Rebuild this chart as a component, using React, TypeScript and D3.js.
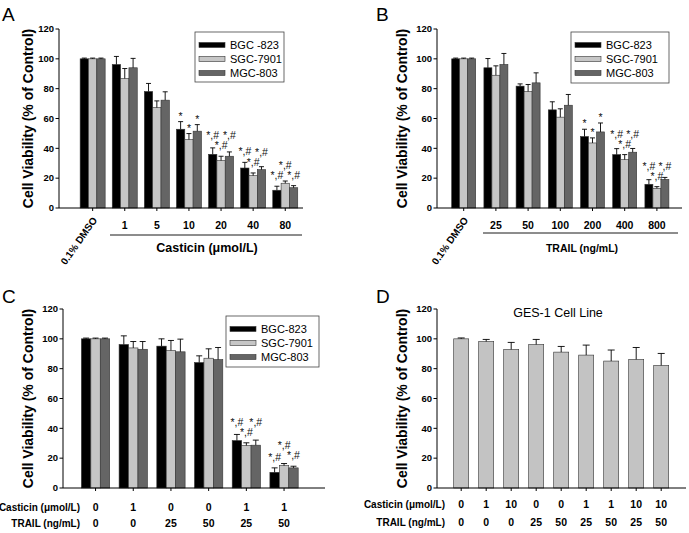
import React from "react";
import * as d3 from "d3";

const FONT = "'Liberation Sans', Arial, Helvetica, sans-serif";
const yTicks = [0, 20, 40, 60, 80, 100, 120];

const seriesNames = ["BGC-823", "SGC-7901", "MGC-803"];
const seriesNamesA = ["BGC -823", "SGC-7901", "MGC-803"];
const seriesColors = ["#000000", "#c6c6c6", "#656565"];

// Panel A: Casticin
const aCategories = ["0.1% DMSO", "1", "5", "10", "20", "40", "80"];
const aBGC = [100, 96.2, 78.1, 52.8, 36.0, 26.8, 11.9];
const aBGCErr = [0.5, 5.4, 5.4, 5.1, 4.3, 3.8, 2.7];
const aSGC = [100, 86.8, 67.3, 45.9, 31.8, 21.7, 16.6];
const aSGCErr = [0.5, 6.7, 4.5, 4.0, 2.9, 1.8, 1.5];
const aMGC = [100, 94.0, 72.3, 51.5, 34.7, 25.7, 13.6];
const aMGCErr = [0.5, 6.3, 5.6, 4.4, 2.9, 2.0, 1.4];
const aSig = ["", "", "", "*", "*,#", "*,#", "*,#"];

// Panel B: TRAIL
const bCategories = ["0.1% DMSO", "25", "50", "100", "200", "400", "800"];
const bBGC = [100, 94.0, 81.7, 65.8, 47.9, 35.8, 15.9];
const bBGCErr = [0.5, 6.2, 1.5, 5.4, 4.9, 4.0, 3.1];
const bSGC = [100, 89.0, 78.1, 60.9, 43.6, 32.4, 13.2];
const bSGCErr = [0.5, 6.3, 4.7, 5.6, 3.4, 3.4, 1.1];
const bMGC = [100, 96.2, 83.9, 68.9, 51.0, 37.4, 19.2];
const bMGCErr = [0.5, 7.4, 6.7, 7.2, 6.0, 2.5, 1.3];
const bSig = ["", "", "", "", "*", "*,#", "*,#"];

// Panel C: combination
const cCasticin = ["0", "1", "0", "0", "1", "1"];
const cTrail = ["0", "0", "25", "50", "25", "50"];
const cBGC = [100, 96.2, 95.1, 84.1, 31.8, 10.5];
const cBGCErr = [0.5, 5.8, 4.9, 4.5, 4.1, 3.0];
const cSGC = [100, 93.9, 92.2, 87.0, 28.5, 15.0];
const cSGCErr = [0.5, 4.3, 6.7, 6.3, 1.8, 1.4];
const cMGC = [100, 93.0, 91.3, 86.1, 28.7, 13.5];
const cMGCErr = [0.5, 5.2, 8.5, 8.1, 3.4, 1.1];
const cSig = ["", "", "", "", "*,#", "*,#"];

// Panel D: GES-1
const dCasticin = ["0", "1", "10", "0", "0", "1", "1", "10", "10"];
const dTrail = ["0", "0", "0", "25", "50", "25", "50", "25", "50"];
const dGES = [100, 98.2, 92.9, 96.2, 91.1, 89.1, 85.1, 86.2, 82.2];
const dGESErr = [0.6, 1.4, 4.7, 3.4, 3.8, 6.7, 7.4, 8.0, 8.0];

type Series = { name: string; color: string; values: number[]; errs: number[]; sigs?: string[] };

type PanelProps = {
  letter: string;
  letterX: number;
  letterY: number;
  axisX0: number;
  axisX1: number;
  yBottom: number;
  yTop: number;
  bandRange: [number, number];
  groupW: number;
  nCats: number;
  series: Series[];
  titleX: number;
  capW: number;
  legend?: { x: number; y: number; w: number; h: number; names: string[] };
};

function Panel(p: PanelProps) {
  const y = d3.scaleLinear().domain([0, 120]).range([p.yBottom, p.yTop]);
  const x = d3.scaleBand<number>().domain(d3.range(p.nCats)).range(p.bandRange).paddingInner(0).paddingOuter(0);
  const inner = d3
    .scaleBand<number>()
    .domain(d3.range(p.series.length))
    .range([-p.groupW / 2, p.groupW / 2]);
  const center = (i: number) => (x(i) as number) + x.bandwidth() / 2;
  const titleY = (p.yBottom + p.yTop) / 2;

  // significance label placement (stack middle vs outer labels)
  const sigLabels: { x: number; y: number; t: string; k: string }[] = [];
  if (p.series.length === 3 && p.series[0].sigs) {
    for (let i = 0; i < p.nCats; i++) {
      const t = p.series[0].sigs![i];
      if (!t) continue;
      const off = t === "*" ? 2 : 7;
      const nat = p.series.map((s) => y(s.values[i] + s.errs[i]) - off);
      const pos = nat.slice();
      if (t.length > 1) {
        const outerMin = Math.min(nat[0], nat[2]);
        if (nat[1] >= outerMin - 10) {
          if (nat[1] > outerMin) {
            pos[0] = Math.min(nat[0], nat[1] - 10);
            pos[2] = Math.min(nat[2], nat[1] - 10);
          } else {
            pos[1] = outerMin - 10;
          }
        }
      }
      p.series.forEach((s, si) => {
        const cx = center(i) + (inner(si) as number) + inner.bandwidth() / 2;
        sigLabels.push({ x: cx, y: pos[si], t: s.sigs![i], k: `s${si}-${i}` });
      });
    }
  }

  return (
    <g>
      <text x={p.letterX} y={p.letterY} fontSize={19} fontFamily={FONT}>
        {p.letter}
      </text>
      {p.series.map((s, si) =>
        s.values.map((v, i) => {
          const bx = center(i) + (inner(si) as number);
          return (
            <rect
              key={`b${si}-${i}`}
              x={bx}
              y={y(v)}
              width={inner.bandwidth()}
              height={y(0) - y(v)}
              fill={s.color}
              stroke="#333"
              strokeWidth={0.6}
            />
          );
        })
      )}
      {p.series.map((s, si) =>
        s.values.map((v, i) => {
          const cx = center(i) + (inner(si) as number) + inner.bandwidth() / 2;
          const top = y(v + s.errs[i]);
          return (
            <g key={`e${si}-${i}`} stroke="#000" strokeWidth={0.9}>
              <line x1={cx} x2={cx} y1={y(v)} y2={top} />
              <line x1={cx - p.capW / 2} x2={cx + p.capW / 2} y1={top} y2={top} />
            </g>
          );
        })
      )}
      {sigLabels.map((l) => (
        <text key={l.k} x={l.x} y={l.y} textAnchor="middle" fontSize={10.5} fontFamily={FONT} fill="#111">
          {l.t}
        </text>
      ))}
      <line x1={p.axisX0} x2={p.axisX0} y1={p.yBottom} y2={p.yTop} stroke="#000" strokeWidth={1} />
      {yTicks.map((t) => (
        <g key={`yt${t}`}>
          <line x1={p.axisX0 - 3.5} x2={p.axisX0} y1={y(t)} y2={y(t)} stroke="#000" strokeWidth={1} />
          <text
            x={p.axisX0 - 5}
            y={y(t)}
            dy="0.35em"
            textAnchor="end"
            fontSize={9.5}
            fontWeight="bold"
            fontFamily={FONT}
          >
            {t}
          </text>
        </g>
      ))}
      <line x1={p.axisX0} x2={p.axisX1} y1={p.yBottom} y2={p.yBottom} stroke="#000" strokeWidth={1} />
      {d3.range(p.nCats).map((i) => (
        <line key={`xt${i}`} x1={center(i)} x2={center(i)} y1={p.yBottom} y2={p.yBottom + 3} stroke="#000" strokeWidth={1} />
      ))}
      <text
        transform={`translate(${p.titleX},${titleY}) rotate(-90)`}
        textAnchor="middle"
        dy="0.35em"
        fontSize={14}
        fontWeight="bold"
        fontFamily={FONT}
      >
        Cell Viability (% of Control)
      </text>
      {p.legend && (
        <g>
          <rect x={p.legend.x} y={p.legend.y} width={p.legend.w} height={p.legend.h} fill="#fff" stroke="#444" strokeWidth={0.8} />
          {p.series.map((s, si) => {
            const ry = p.legend!.y + 13 + si * 14;
            return (
              <g key={`l${si}`}>
                <rect x={p.legend!.x + 4} y={ry - 2.5} width={26} height={5} fill={s.color} stroke="#333" strokeWidth={0.6} />
                <text x={p.legend!.x + 35} y={ry} dy="0.36em" fontSize={11} fontFamily={FONT}>
                  {p.legend!.names[si]}
                </text>
              </g>
            );
          })}
        </g>
      )}
    </g>
  );
}

function bandCenters(range: [number, number], n: number) {
  const x = d3.scaleBand<number>().domain(d3.range(n)).range(range);
  return d3.range(n).map((i) => (x(i) as number) + x.bandwidth() / 2);
}

export default function App() {
  const aRange: [number, number] = [76.6, 301.3];
  const bRange: [number, number] = [447.6, 673.0];
  const cRange: [number, number] = [76.7, 302.9];
  const dRange: [number, number] = [448.7, 673.7];
  const aC = bandCenters(aRange, aCategories.length);
  const bC = bandCenters(bRange, bCategories.length);
  const cC = bandCenters(cRange, cCasticin.length);
  const dC = bandCenters(dRange, dCasticin.length);

  const mk = (names: string[], vals: number[][], errs: number[][], sig?: string[]): Series[] =>
    names.map((n, i) => ({ name: n, color: seriesColors[i], values: vals[i], errs: errs[i], sigs: sig }));

  return (
    <svg width={689} height={533} style={{ position: "absolute", left: 0, top: 0, background: "#fff" }}>
      <rect x={0} y={0} width={689} height={533} fill="#fff" />
      {/* A */}
      <Panel
        letter="A"
        letterX={2}
        letterY={21}
        axisX0={59}
        axisX1={303}
        yBottom={208}
        yTop={29}
        bandRange={aRange}
        groupW={25}
        nCats={aCategories.length}
        series={mk(seriesNamesA, [aBGC, aSGC, aMGC], [aBGCErr, aSGCErr, aMGCErr], aSig)}
        titleX={28}
        capW={5}
        legend={{ x: 195, y: 32, w: 89, h: 50, names: seriesNamesA }}
      />
      {aCategories.map((c, i) =>
        i === 0 ? (
          <text key={`ac${i}`} transform={`translate(${aC[i] + 5},${220}) rotate(-55)`} textAnchor="end" fontSize={10} fontWeight="bold" fontFamily={FONT}>
            {c}
          </text>
        ) : (
          <text key={`ac${i}`} x={aC[i]} y={229} textAnchor="middle" fontSize={10.5} fontWeight="bold" fontFamily={FONT}>
            {c}
          </text>
        )
      )}
      <line x1={110} x2={302} y1={235} y2={235} stroke="#000" strokeWidth={0.9} />
      <text x={207} y={252} textAnchor="middle" fontSize={12.5} fontWeight="bold" fontFamily={FONT}>
        Casticin (μmol/L)
      </text>

      {/* B */}
      <Panel
        letter="B"
        letterX={376}
        letterY={21}
        axisX0={437}
        axisX1={682}
        yBottom={208}
        yTop={29}
        bandRange={bRange}
        groupW={24}
        nCats={bCategories.length}
        series={mk(seriesNames, [bBGC, bSGC, bMGC], [bBGCErr, bSGCErr, bMGCErr], bSig)}
        titleX={402}
        capW={5}
        legend={{ x: 571, y: 32, w: 98, h: 51, names: seriesNames }}
      />
      {bCategories.map((c, i) =>
        i === 0 ? (
          <text key={`bc${i}`} transform={`translate(${bC[i] + 5},${220}) rotate(-55)`} textAnchor="end" fontSize={10} fontWeight="bold" fontFamily={FONT}>
            {c}
          </text>
        ) : (
          <text key={`bc${i}`} x={bC[i]} y={229} textAnchor="middle" fontSize={10.5} fontWeight="bold" fontFamily={FONT}>
            {c}
          </text>
        )
      )}
      <line x1={483} x2={678} y1={233} y2={233} stroke="#000" strokeWidth={0.9} />
      <text x={582} y={252} textAnchor="middle" fontSize={10.5} fontWeight="bold" fontFamily={FONT}>
        TRAIL (ng/mL)
      </text>

      {/* C */}
      <Panel
        letter="C"
        letterX={2}
        letterY={303}
        axisX0={63}
        axisX1={325}
        yBottom={488}
        yTop={309}
        bandRange={cRange}
        groupW={28.3}
        nCats={cCasticin.length}
        series={mk(seriesNames, [cBGC, cSGC, cMGC], [cBGCErr, cSGCErr, cMGCErr], cSig)}
        titleX={28}
        capW={6}
        legend={{ x: 226, y: 316, w: 93, h: 51, names: seriesNames }}
      />
      <text x={80} y={510.5} textAnchor="end" fontSize={10} fontWeight={600} fontFamily={FONT}>
        Casticin (μmol/L)
      </text>
      <text x={80} y={527} textAnchor="end" fontSize={10} fontWeight={600} fontFamily={FONT}>
        TRAIL (ng/mL)
      </text>
      {cCasticin.map((c, i) => (
        <text key={`cc${i}`} x={cC[i]} y={510.5} textAnchor="middle" fontSize={10.5} fontWeight="bold" fontFamily={FONT}>
          {c}
        </text>
      ))}
      {cTrail.map((c, i) => (
        <text key={`ct${i}`} x={cC[i]} y={527} textAnchor="middle" fontSize={10.5} fontWeight="bold" fontFamily={FONT}>
          {c}
        </text>
      ))}

      {/* D */}
      <Panel
        letter="D"
        letterX={376}
        letterY={303}
        axisX0={437}
        axisX1={686}
        yBottom={488}
        yTop={309}
        bandRange={dRange}
        groupW={15}
        nCats={dCasticin.length}
        series={[{ name: "GES-1", color: "#c3c3c3", values: dGES, errs: dGESErr }]}
        titleX={402}
        capW={7}
      />
      <text x={558} y={317} textAnchor="middle" fontSize={12.5} fontFamily={FONT}>
        GES-1 Cell Line
      </text>
      <text x={445} y={508} textAnchor="end" fontSize={10} fontWeight={600} fontFamily={FONT}>
        Casticin (μmol/L)
      </text>
      <text x={445} y={526} textAnchor="end" fontSize={10} fontWeight={600} fontFamily={FONT}>
        TRAIL (ng/mL)
      </text>
      {dCasticin.map((c, i) => (
        <text key={`dc${i}`} x={dC[i]} y={508} textAnchor="middle" fontSize={10.5} fontWeight="bold" fontFamily={FONT}>
          {c}
        </text>
      ))}
      {dTrail.map((c, i) => (
        <text key={`dt${i}`} x={dC[i]} y={526} textAnchor="middle" fontSize={10.5} fontWeight="bold" fontFamily={FONT}>
          {c}
        </text>
      ))}
    </svg>
  );
}
